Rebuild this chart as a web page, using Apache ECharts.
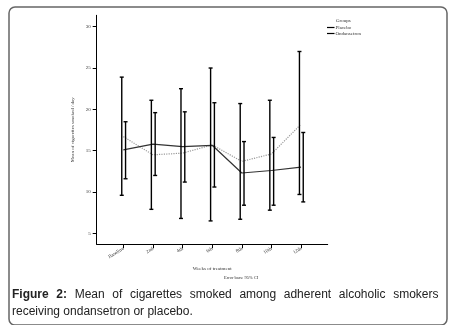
<!DOCTYPE html>
<html>
<head>
<meta charset="utf-8">
<script src="https://cdn.jsdelivr.net/npm/echarts@6/dist/echarts.min.js"></script>
<style>
  html, body { margin: 0; padding: 0; background: #fff; }
  #chart { width: 451px; height: 325px; }
</style>
</head>
<body>
<div id="chart"></div>
<script>
// weeks of treatment
var weeks = ['Baseline', '2nd', '4th', '6th', '8th', '10th', '12th'];
var weekIdx = [0, 1, 2, 3, 4, 5, 6];
var yTicks = [5, 10, 15, 20, 25, 30];

// placebo (dotted line, left error bars)
var placeboMean = [16.7, 14.5, 14.7, 15.7, 13.7, 14.6, 18.2];
var placeboLow = [9.6, 7.9, 6.8, 6.5, 6.7, 7.8, 9.7];
var placeboHigh = [23.9, 21.1, 22.5, 25.0, 20.7, 21.1, 27.0];

// ondansetron (solid line, right error bars)
var ondMean = [15.1, 15.8, 15.5, 15.65, 12.3, 12.6, 13.0];
var ondLow = [11.6, 12.0, 11.2, 10.6, 8.4, 8.4, 8.8];
var ondHigh = [18.5, 19.6, 19.7, 20.8, 16.1, 16.6, 17.2];

var serif = 'Liberation Serif';
var chart = echarts.init(document.getElementById('chart'));

function pairs(ys) {
    return ys.map(function (y, i) { return [weekIdx[i], y]; });
}
function bars(lo, hi) {
    return lo.map(function (l, i) { return [weekIdx[i], l, hi[i]]; });
}
// error bar drawn with a small pixel offset from the category
function errorBar(offset) {
    return function (params, api) {
        var a = api.coord([api.value(0), api.value(1)]);
        var b = api.coord([api.value(0), api.value(2)]);
        var x = a[0] + offset, w = 2;
        var st = { stroke: '#000', lineWidth: 1.4 };
        return {
            type: 'group',
            children: [
                { type: 'line', shape: { x1: x, y1: a[1], x2: x, y2: b[1] }, style: st },
                { type: 'line', shape: { x1: x - w, y1: a[1], x2: x + w, y2: a[1] }, style: st },
                { type: 'line', shape: { x1: x - w, y1: b[1], x2: x + w, y2: b[1] }, style: st }
            ]
        };
    };
}

// justified caption, first line
var capLine1 = ['Figure', '2:', 'Mean', 'of', 'cigarettes', 'smoked', 'among', 'adherent', 'alcoholic', 'smokers'];
var ctx = document.createElement('canvas').getContext('2d');
var capLeft = 12, capRight = 438.5;
var widths = capLine1.map(function (w, i) {
    ctx.font = (i < 2 ? 'bold ' : '') + '12px "Liberation Sans"';
    return ctx.measureText(w).width;
});
var total = widths.reduce(function (s, v) { return s + v; }, 0);
var gap = (capRight - capLeft - total) / (capLine1.length - 1);
var capX = capLeft;
var capTexts = capLine1.map(function (w, i) {
    var el = {
        type: 'text', left: capX, top: 289,
        style: { text: w, font: (i < 2 ? 'bold ' : '') + '12px "Liberation Sans"', fill: '#222' }
    };
    capX += widths[i] + gap;
    return el;
});

option = {
    animation: false,
    grid: { left: 96.7, right: 123.3, top: 15.3, bottom: 80.7, containLabel: false, outerBoundsMode: 'none' },
    legend: {
        orient: 'vertical',
        left: 327, top: 25,
        padding: 0,
        itemGap: 1,
        itemWidth: 7.5,
        itemHeight: 1.2,
        icon: 'rect',
        itemStyle: { color: '#000' },
        textStyle: { fontFamily: serif, fontSize: 5, color: '#333', lineHeight: 5, padding: [0, 0, 0, -4] },
        data: ['Placebo', 'Ondansetron']
    },
    xAxis: {
        type: 'value',
        min: -0.9, max: 6.9,
        name: 'Weeks of treatment',
        nameLocation: 'middle',
        nameGap: 20,
        nameTextStyle: { fontFamily: serif, fontSize: 5, color: '#333' },
        splitLine: { show: false },
        axisLine: { onZero: false, lineStyle: { color: '#000', width: 1 } },
        axisTick: { customValues: weekIdx, length: 4, lineStyle: { color: '#000' } },
        axisLabel: {
            customValues: weekIdx,
            rotate: 32,
            margin: 4,
            fontFamily: serif, fontSize: 5, color: '#333',
            formatter: function (v) { return weeks[Math.round(v)]; }
        }
    },
    yAxis: {
        type: 'value',
        min: 3.67, max: 31.38,
        name: 'Mean of cigarettes smoked / day',
        nameLocation: 'middle',
        nameGap: 13,
        nameTextStyle: { fontFamily: serif, fontSize: 5, color: '#333' },
        splitLine: { show: false },
        axisLine: { show: true, onZero: false, lineStyle: { color: '#000', width: 1 } },
        axisTick: { show: true, customValues: yTicks, length: 4, lineStyle: { color: '#000' } },
        axisLabel: { customValues: yTicks, margin: 6, fontFamily: serif, fontSize: 5, color: '#333' }
    },
    graphic: [
        {
            type: 'rect', left: 6.5, top: 4.5,
            shape: { width: 438, height: 318, r: 6 },
            style: { fill: 'none', stroke: '#666', lineWidth: 1.5 }
        },
        {
            type: 'text', left: 336, top: 18,
            style: { text: 'Groups', font: '5px "Liberation Serif"', fill: '#333' }
        },
        {
            type: 'text', left: 224, top: 275,
            style: { text: 'Error bars: 95% CI', font: '4.5px "Liberation Serif"', fill: '#333' }
        },
        {
            type: 'text', left: 12, top: 306,
            style: { text: 'receiving ondansetron or placebo.', font: '12px "Liberation Sans"', fill: '#222' }
        }
    ].concat(capTexts),
    series: [
        {
            name: 'Placebo',
            type: 'line',
            data: pairs(placeboMean),
            symbol: 'none',
            lineStyle: { color: '#999', width: 1.2, type: 'dotted' },
            z: 3
        },
        {
            name: 'Ondansetron',
            type: 'line',
            data: pairs(ondMean),
            symbol: 'none',
            lineStyle: { color: '#333', width: 1.2 },
            z: 3
        },
        {
            type: 'custom',
            renderItem: errorBar(-1.6),
            data: bars(placeboLow, placeboHigh),
            z: 4
        },
        {
            type: 'custom',
            renderItem: errorBar(2.2),
            data: bars(ondLow, ondHigh),
            z: 4
        }
    ]
};

chart.setOption(option);
</script>
</body>
</html>
